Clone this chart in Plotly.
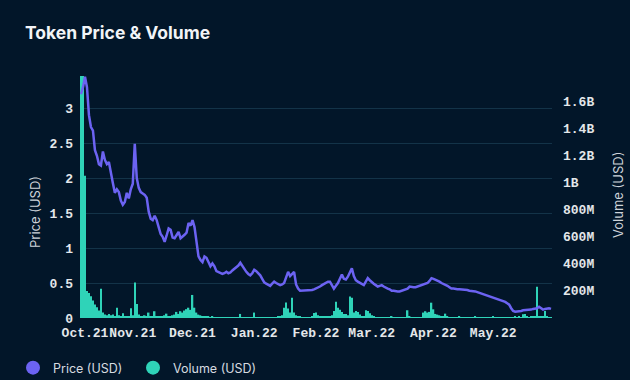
import pandas as pd
import plotly.graph_objects as go

start_date = "2021-10-06"

price_usd = [
    3.20, 3.30, 3.45, 3.30, 2.90, 2.73, 2.68, 2.40, 2.32, 2.20,
    2.18, 2.38, 2.26, 2.20, 2.23, 2.05, 1.93, 1.79, 1.84, 1.80,
    1.68, 1.62, 1.66, 1.79, 1.71, 1.84, 1.92, 2.49, 2.00, 1.86,
    1.80, 1.78, 1.76, 1.72, 1.52, 1.42, 1.40, 1.46, 1.40, 1.30,
    1.20, 1.16, 1.09, 1.18, 1.28, 1.26, 1.15, 1.14, 1.18, 1.23,
    1.14, 1.16, 1.19, 1.22, 1.36, 1.32, 1.40, 1.30, 1.05, 0.88,
    0.83, 0.80, 0.88, 0.86, 0.80, 0.74, 0.78, 0.74, 0.67, 0.66,
    0.64, 0.63, 0.64, 0.66, 0.64, 0.65, 0.68, 0.70, 0.73, 0.75,
    0.79, 0.74, 0.69, 0.66, 0.63, 0.61, 0.64, 0.69, 0.67, 0.64,
    0.61, 0.56, 0.51, 0.49, 0.47, 0.46, 0.49, 0.52, 0.50, 0.48,
    0.47, 0.48, 0.50, 0.58, 0.66, 0.60, 0.63, 0.66, 0.48, 0.42,
    0.39, 0.39, 0.40, 0.39, 0.39, 0.40, 0.40, 0.41, 0.42, 0.44,
    0.45, 0.47, 0.49, 0.50, 0.52, 0.52, 0.47, 0.42, 0.46, 0.50,
    0.56, 0.62, 0.56, 0.55, 0.59, 0.65, 0.71, 0.60, 0.54, 0.52,
    0.50, 0.48, 0.47, 0.52, 0.57, 0.54, 0.51, 0.49, 0.47, 0.45,
    0.46, 0.47, 0.45, 0.43, 0.42, 0.41, 0.39, 0.39, 0.38, 0.38,
    0.38, 0.39, 0.39, 0.40, 0.42, 0.45, 0.44, 0.44, 0.44, 0.45,
    0.46, 0.47, 0.48, 0.49, 0.50, 0.53, 0.57, 0.56, 0.55, 0.54,
    0.52, 0.50, 0.49, 0.48, 0.46, 0.44, 0.42, 0.42, 0.41, 0.41,
    0.41, 0.41, 0.40, 0.40, 0.40, 0.39, 0.39, 0.38, 0.38, 0.37,
    0.36, 0.35, 0.34, 0.33, 0.32, 0.31, 0.30, 0.29, 0.28, 0.28,
    0.27, 0.26, 0.25, 0.23, 0.21, 0.19, 0.14, 0.10, 0.09, 0.09,
    0.10, 0.10, 0.11, 0.11, 0.12, 0.12, 0.12, 0.13, 0.13, 0.14,
    0.16, 0.14, 0.12, 0.13, 0.14, 0.14, 0.13,
]

volume_musd = [
    1850, 1800, 1050, 200, 185, 160, 130, 100, 80, 55,
    215, 40, 25, 20, 30, 20, 25, 15, 76, 20,
    15, 35, 15, 10, 15, 72, 20, 262, 104, 25,
    15, 10, 20, 10, 40, 15, 10, 50, 15, 10,
    12, 8, 20, 32, 10, 15, 20, 25, 45, 30,
    50, 40, 55, 65, 76, 60, 170, 76, 40, 25,
    20, 12, 15, 10, 8, 6, 8, 5, 6, 5,
    4, 5, 6, 5, 4, 5, 6, 5, 4, 5,
    30, 6, 5, 4, 5, 4, 5, 40, 6, 5,
    5, 4, 5, 6, 5, 4, 5, 6, 5, 8,
    10, 20, 76, 115, 70, 40, 150, 40, 20, 12,
    10, 6, 5, 6, 5, 6, 8, 36, 40, 20,
    10, 8, 8, 8, 12, 10, 20, 52, 120, 76,
    60, 45, 30, 30, 20, 158, 150, 40, 52, 45,
    25, 12, 10, 57, 52, 35, 20, 10, 6, 5,
    6, 5, 6, 5, 6, 6, 10, 6, 5, 6,
    5, 6, 5, 6, 57, 8, 6, 5, 6, 5,
    6, 6, 40, 50, 40, 45, 113, 64, 30, 25,
    20, 15, 10, 32, 10, 5, 4, 5, 4, 5,
    10, 5, 4, 5, 4, 5, 6, 5, 12, 5,
    4, 5, 4, 5, 6, 5, 4, 10, 5, 4,
    5, 6, 5, 4, 5, 6, 5, 4, 12, 6,
    8, 5, 27, 30, 8, 6, 8, 15, 10, 230,
    12, 8, 10, 52, 8, 6, 5,
]

x_tick_dates = ["2021-10-08", "2021-11-01", "2021-12-01", "2022-01-01",
                "2022-02-01", "2022-03-01", "2022-04-01", "2022-05-01"]
x_tick_labels = ["Oct.21", "Nov.21", "Dec.21", "Jan.22",
                 "Feb.22", "Mar.22", "Apr.22", "May.22"]

price_ticks = [0, 0.5, 1, 1.5, 2, 2.5, 3]
price_tick_labels = ["0", "0.5", "1", "1.5", "2", "2.5", "3"]

volume_ticks = [200, 400, 600, 800, 1000, 1200, 1400, 1600]
volume_tick_labels = ["200M", "400M", "600M", "800M", "1B", "1.2B", "1.4B", "1.6B"]

dates = pd.date_range(start_date, periods=len(price_usd), freq="D")

BG = "#021629"
PRICE_C = "#6c63f2"
VOL_C = "#2fd3b8"
GRID_C = "rgba(90,170,200,0.20)"
TICK_FONT = dict(family="Liberation Mono", size=13, color="#e4e7ea", weight="bold")
LEGEND_FONT = dict(family="Inter", size=12.5, color="#d6dbe0")

fig = go.Figure()

fig.add_trace(go.Bar(
    x=dates, y=volume_musd, name="Volume (USD)", marker=dict(color=VOL_C, line=dict(width=0)),
    yaxis="y", showlegend=False,
))
fig.add_trace(go.Scatter(
    x=dates, y=price_usd, name="Price (USD)", mode="lines",
    line=dict(color=PRICE_C, width=2.5), yaxis="y2", showlegend=False,
))
# legend entries with circle markers
fig.add_trace(go.Scatter(x=[None], y=[None], mode="markers", name="Price (USD)",
                         marker=dict(color=PRICE_C, size=14), yaxis="y2", legend="legend"))
fig.add_trace(go.Scatter(x=[None], y=[None], mode="markers", name="Volume (USD)",
                         marker=dict(color=VOL_C, size=14), yaxis="y2", legend="legend2"))

fig.update_layout(
    width=630, height=380,
    paper_bgcolor=BG, plot_bgcolor=BG,
    margin=dict(l=80, r=78, t=76, b=62, autoexpand=False),
    bargap=0.25,
    title=dict(text="<b>Token Price & Volume</b>", x=25 / 630, xref="container", xanchor="left",
               y=1 - 33 / 380, yref="container", yanchor="middle",
               font=dict(family="Inter", size=17.5, color="#f2f4f7")),
    xaxis=dict(
        range=["2021-10-05 12:00", "2022-05-30 12:00"],
        tickvals=x_tick_dates, ticktext=x_tick_labels, tickfont=TICK_FONT, tickangle=0,
        showgrid=False, zeroline=False, showline=False, ticks="", automargin=False,
        ticklabelstandoff=5,
    ),
    yaxis=dict(
        range=[0, 1785], side="right", tickvals=volume_ticks, ticktext=volume_tick_labels,
        tickfont=TICK_FONT, showgrid=False, zeroline=False, showline=False,
        ticklabelstandoff=10, automargin=False,
    ),
    yaxis2=dict(
        range=[0, 3.46], side="left", overlaying="y", tickvals=price_ticks,
        ticktext=price_tick_labels, tickfont=TICK_FONT, showgrid=True, gridcolor=GRID_C,
        gridwidth=1, zeroline=False, showline=False, ticklabelstandoff=6, automargin=False,
    ),
    legend=dict(orientation="h", x=13 / 630, xref="container", xanchor="left",
                y=1 - 368 / 380, yref="container", yanchor="middle",
                font=LEGEND_FONT, bgcolor="rgba(0,0,0,0)"),
    legend2=dict(orientation="h", x=133 / 630, xref="container", xanchor="left",
                 y=1 - 368 / 380, yref="container", yanchor="middle",
                 font=LEGEND_FONT, bgcolor="rgba(0,0,0,0)"),
    annotations=[
        dict(text="Price (USD)", x=-0.0953, y=0.438, xref="paper", yref="paper",
             xanchor="center", yanchor="middle",
             textangle=-90, showarrow=False, font=dict(family="Inter", size=13, color="#cdd3d9")),
        dict(text="Volume (USD)", x=1.1398, y=0.508, xref="paper", yref="paper",
             xanchor="center", yanchor="middle",
             textangle=-90, showarrow=False, font=dict(family="Inter", size=13, color="#cdd3d9")),
    ],
)

fig.write_html("out.html", config={"displayModeBar": False},
               post_script="document.body.style.margin='0';")
